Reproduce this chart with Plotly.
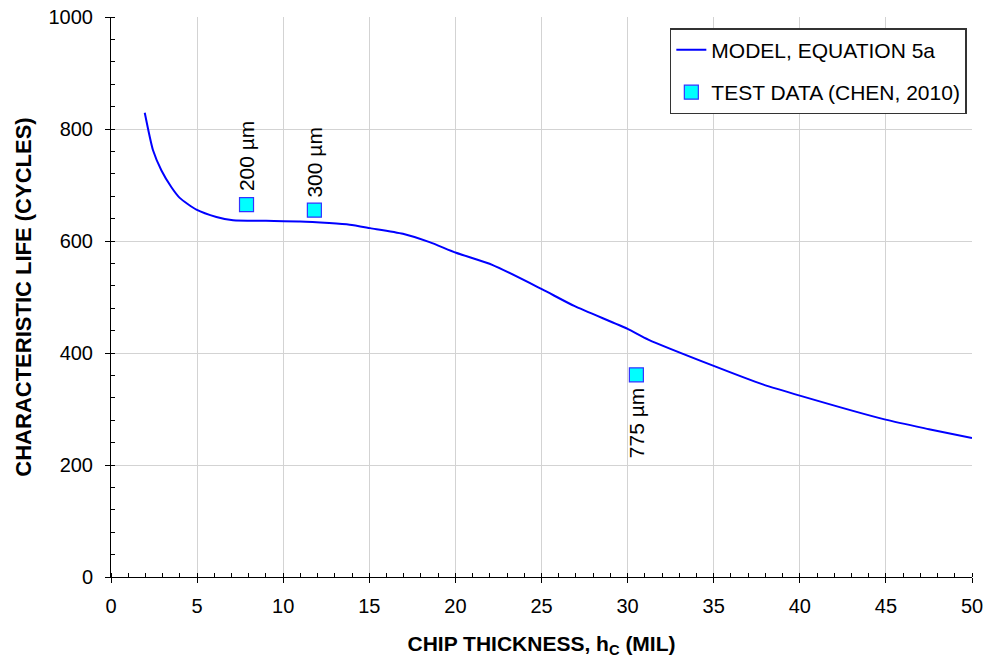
import plotly.graph_objects as go

# Model curve (EQUATION 5a)
model_x = [1.96, 2.44, 2.93, 3.51, 3.99, 4.96, 6.12, 7.09, 9.0, 10.97, 12.67, 13.86, 15.05,
           16.95, 18.5, 20.04, 22.17, 25.02, 26.9, 30.0, 31.2, 35.0, 37.85, 40.1, 44.98, 47.5, 50.0]
model_y = [829, 762, 726, 696, 677, 656, 643, 637, 636, 635, 632, 629, 623,
           613, 598, 579, 557, 514, 484, 443, 424, 377, 344, 323, 281, 264, 248]

# Test data (Chen, 2010)
test_x = [7.87, 11.81, 30.51]
test_y = [665, 655, 361]
test_labels = ["200 µm", "300 µm", "775 µm"]
label_side = ["above", "above", "below"]

FONT = "Arial, Liberation Sans, sans-serif"

fig = go.Figure()
fig.add_trace(go.Scatter(
    x=model_x, y=model_y, mode="lines", name="MODEL, EQUATION 5a",
    line=dict(color="#0000FF", width=2, shape="spline", smoothing=0.6),
    legendgroup="a",
))
fig.add_trace(go.Scatter(
    x=test_x, y=test_y, mode="markers", name="TEST DATA (CHEN, 2010)",
    marker=dict(symbol="square", size=14, color="#00FFFF", line=dict(color="#3333FF", width=1.2)),
    legendgroup="b",
))

for x, y, t, side in zip(test_x, test_y, test_labels, label_side):
    fig.add_annotation(
        x=x, y=y, text=t, showarrow=False, textangle=-90,
        xanchor="center", yanchor="bottom" if side == "above" else "top",
        yshift=11 if side == "above" else -11,
        font=dict(family=FONT, size=21, color="black"),
    )

axis_common = dict(
    showline=True, linecolor="black", linewidth=1,
    showgrid=True, gridcolor="#d3d3d3", gridwidth=1,
    zeroline=False,
    ticks="outside", ticklen=5, tickcolor="black", tickwidth=1,
    tickfont=dict(family=FONT, size=20, color="black"),
)

fig.update_xaxes(
    range=[0, 50], dtick=5, tick0=0,
    minor=dict(dtick=1, ticks="inside", ticklen=4, tickcolor="black", showgrid=False),
    ticklabelstandoff=6,
    title=dict(text="<b>CHIP THICKNESS, h<sub>C</sub> (MIL)</b>",
               font=dict(family=FONT, size=21, color="black"), standoff=26),
    **axis_common,
)
fig.update_yaxes(
    range=[0, 1000], dtick=200, tick0=0,
    minor=dict(dtick=40, ticks="inside", ticklen=4, tickcolor="black", showgrid=False),
    ticklabelstandoff=8,
    title=dict(text="<b>CHARACTERISTIC LIFE (CYCLES)</b>",
               font=dict(family=FONT, size=22, color="black"), standoff=10),
    **axis_common,
)

fig.update_layout(
    width=985, height=658,
    margin=dict(l=111, r=13, t=17, b=81, autoexpand=False),
    paper_bgcolor="white", plot_bgcolor="white",
    font=dict(family=FONT, size=20, color="black"),
    showlegend=True,
    legend=dict(
        x=0.994, y=0.98, xanchor="right", yanchor="top",
        bgcolor="white", bordercolor="#333333", borderwidth=1.5,
        font=dict(family=FONT, size=21, color="black"),
        traceorder="grouped", tracegroupgap=12, itemwidth=30,
    ),
)

fig.write_html("out.html")
